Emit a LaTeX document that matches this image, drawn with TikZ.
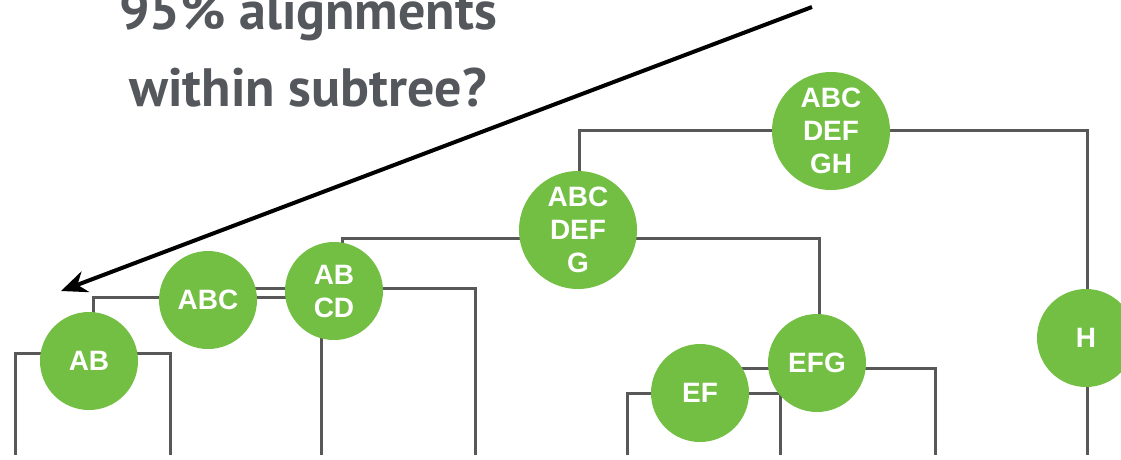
\documentclass[tikz,border=0pt]{standalone}
\usepackage{fontspec}
\setmainfont{Liberation Sans}
\newfontfamily\titlefont{PT Sans}
\usetikzlibrary{arrows.meta}
\definecolor{leafgreen}{RGB}{114,191,68}
\definecolor{titlegray}{RGB}{84,88,93}
\definecolor{branchgray}{RGB}{88,88,88}

\begin{document}
\begin{tikzpicture}[x=1pt,y=-1pt,
  branch/.style={draw=branchgray, line width=3pt, line join=miter},
  bubble/.style={circle, fill=leafgreen, text=white, inner sep=0pt,
    font=\bfseries\fontsize{28}{33}\selectfont, align=center},
  smallbub/.style={bubble, minimum size=98pt},
  bigbub/.style={bubble, minimum size=118pt},
  pointer/.style={draw=black, line width=4pt,
    -{Stealth[length=26pt,width=22pt]}},
  heading/.style={text=titlegray, anchor=base,
    font=\titlefont\bfseries\fontsize{54}{60}\selectfont}
]
\useasboundingbox (0,0) rectangle (1121,459);

% leaves (tips running off the bottom edge)
\coordinate (A) at (15,455);
\coordinate (B) at (170,455);
\coordinate (C) at (321,455);
\coordinate (D) at (475,455);
\coordinate (E) at (627,455);
\coordinate (F) at (780,455);
\coordinate (G) at (935,455);
\coordinate (H) at (1087,455);

% junctions of the dendrogram
\coordinate (jAB) at (93,353);
\coordinate (jABC) at (208,297);
\coordinate (jABCD) at (342,288);
\coordinate (jEF) at (700,393);
\coordinate (jEFG) at (819,368);
\coordinate (jABCDEFG) at (579,238);
\coordinate (jRoot) at (831,130);

% branches
\draw[branch] (A) |- (jAB) -| (B);
\draw[branch] (jAB) |- (jABC) -| (C);
\draw[branch] (jABC) |- (jABCD) -| (D);
\draw[branch] (E) |- (jEF) -| (F);
\draw[branch] (jEF) |- (jEFG) -| (G);
\draw[branch] (jABCD) |- (jABCDEFG) -| (jEFG);
\draw[branch] (jABCDEFG) |- (jRoot) -| (H);

% clade labels
\node[smallbub] (ab) at (89,361) {AB};
\node[smallbub] (abc) at (208,300) {ABC};
\node[smallbub] (abcd) at (334,291) {AB\\CD};
\node[bigbub] (abcdefg) at (578,230) {ABC\\DEF\\G};
\node[bigbub] (root) at (831,131) {ABC\\DEF\\GH};
\node[smallbub] (ef) at (700,393) {EF};
\node[smallbub] (efg) at (817,363) {EFG};
\node[smallbub] (h) at (1086,338) {H};

% question and pointer
\node[heading] (q1) at (308,29) {95\% alignments};
\node[heading] (q2) at (308,106) {within subtree?};
\coordinate (ptrStart) at (812,7);
\coordinate (ptrEnd) at (61,291);
\draw[pointer] (ptrStart) -- (ptrEnd);
\end{tikzpicture}
\end{document}
